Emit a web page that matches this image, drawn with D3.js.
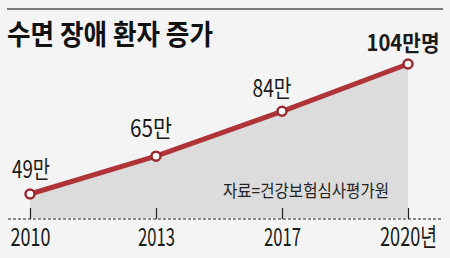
<!DOCTYPE html>
<html>
<head>
<meta charset="utf-8">
<script src="https://cdn.jsdelivr.net/npm/d3@7"></script>
<style>
  html, body { margin: 0; padding: 0; background: #f4f4f4; }
  svg { display: block; }
  text { font-family: "Noto Sans CJK KR", "Noto Sans", sans-serif; fill: #1a1a1a; }
</style>
</head>
<body>
<svg id="chart" width="450" height="258"></svg>
<script>
// data
var years = ["2010", "2013", "2017", "2020"];
var yearLabels = ["2010", "2013", "2017", "2020년"];
var patients = [49, 65, 84, 104];   // 만명
var valueLabels = ["49만", "65만", "84만", "104만명"];
var title = "수면 장애 환자 증가";
var source = "자료=건강보험심사평가원";

var svg = d3.select("#chart");
var baseY = 219;

var x = d3.scalePoint().domain(years).range([30, 408]);
var y = d3.scaleLinear().domain([49, 104]).range([194, 64]);

var pts = years.map(function(yr, i){ return {year: yr, v: patients[i], label: valueLabels[i]}; });

// squeeze text to a set width (condensed look)
function fitWidth(el, w){
	d3.select(el).attr("textLength", w).attr("lengthAdjust", "spacingAndGlyphs");
}

// top rule
svg.append("line")
	.attr("x1", 7).attr("x2", 443)
	.attr("y1", 9).attr("y2", 9)
	.attr("stroke", "#555").attr("stroke-width", 1.5);

// title
svg.append("text")
	.attr("x", 7).attr("y", 45)
	.style("font-size", "28px").style("font-weight", "bold")
	.style("fill", "#111")
	.text(title)
	.each(function(){ fitWidth(this, 206); });

// area under line
var area = d3.area()
	.x(function(d){ return x(d.year); })
	.y0(baseY - 1)
	.y1(function(d){ return y(d.v); });
svg.append("path").datum(pts)
	.attr("d", area)
	.attr("fill", "#dcdcdc");

// x axis (ticks pointing up)
var tickW = [40, 37, 37, 57];
var xAxis = d3.axisBottom(x)
	.tickSize(-11)
	.tickPadding(9)
	.tickFormat(function(d, i){ return yearLabels[i]; });
var gx = svg.append("g")
	.attr("transform", "translate(0," + baseY + ")")
	.call(xAxis);
gx.select(".domain").remove();
gx.attr("font-family", null).attr("font-size", null);
gx.selectAll(".tick line").attr("stroke", "#222").attr("stroke-width", 1.2);
gx.selectAll(".tick text")
	.style("font-size", "25px").style("fill", "#1a1a1a")
	.each(function(d, i){
		// narrow the label with a horizontal scale around its centre
		var w = this.getComputedTextLength();
		d3.select(this).attr("transform", "scale(" + (tickW[i] / w) + ",1)");
	});

// dashed baseline
svg.append("line")
	.attr("x1", 8).attr("x2", 443)
	.attr("y1", baseY).attr("y2", baseY)
	.attr("stroke", "#222").attr("stroke-width", 1.2)
	.attr("stroke-dasharray", "3,2");

// source
svg.append("text")
	.attr("x", 223).attr("y", 197)
	.style("font-size", "17px").style("fill", "#222")
	.text(source)
	.each(function(){ fitWidth(this, 166); });

// line
var line = d3.line()
	.x(function(d){ return x(d.year); })
	.y(function(d){ return y(d.v); });
svg.append("path").datum(pts)
	.attr("d", line)
	.attr("fill", "none")
	.attr("stroke", "#ae3439")
	.attr("stroke-width", 5)
	.attr("stroke-linejoin", "round");

// points
svg.selectAll(".pt").data(pts).enter()
	.append("circle")
	.attr("class", "pt")
	.attr("cx", function(d){ return x(d.year); })
	.attr("cy", function(d){ return y(d.v); })
	.attr("r", 4.5)
	.attr("fill", "#fff")
	.attr("stroke", "#9a2a30")
	.attr("stroke-width", 2.5);

// value labels
var labelDx = [1, -5, -10, -5];
var labelDy = [-16, -19, -14, -13];
var labelW = [38, 42, 39, 73];
svg.selectAll(".vlabel").data(pts).enter()
	.append("text")
	.attr("class", "vlabel")
	.attr("text-anchor", "middle")
	.attr("x", function(d, i){ return x(d.year) + labelDx[i]; })
	.attr("y", function(d, i){ return y(d.v) + labelDy[i]; })
	.style("font-size", function(d, i){ return i === 3 ? "22px" : "24px"; })
	.style("font-weight", function(d, i){ return i === 3 ? "bold" : "normal"; })
	.text(function(d){ return d.label; })
	.each(function(d, i){ fitWidth(this, labelW[i]); });
</script>
</body>
</html>
